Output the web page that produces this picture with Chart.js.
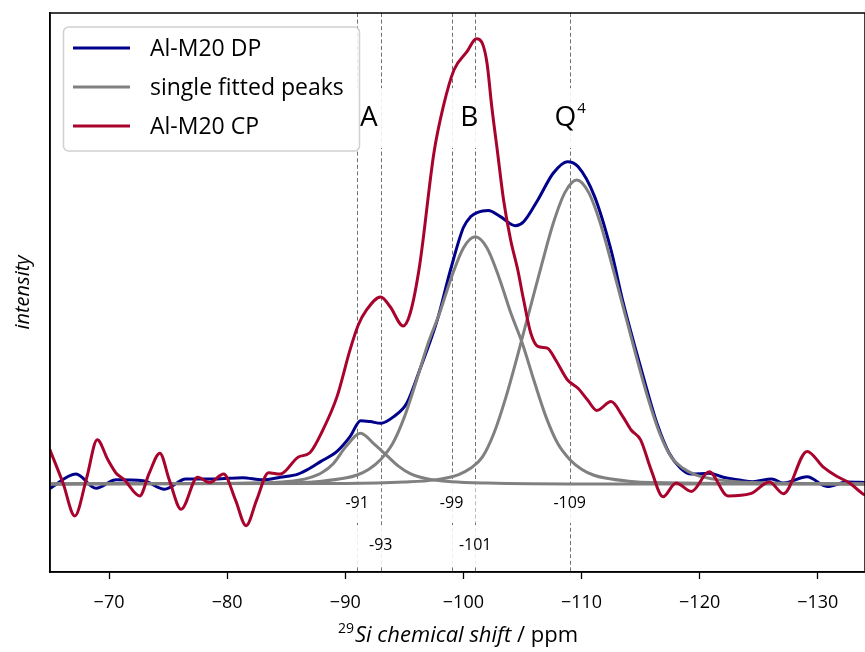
<!DOCTYPE html>
<html>
<head>
<meta charset="utf-8">
<script src="https://cdn.jsdelivr.net/npm/chart.js@4.4.1/dist/chart.umd.min.js"></script>
<style>
  html, body { margin: 0; padding: 0; background: #fff; }
  #wrap { width: 865px; height: 652px; }
</style>
</head>
<body>
<div id="wrap"><canvas id="nmr" width="865" height="652"></canvas></div>
<script>
// 29Si NMR of Al-M20: DP spectrum, CP spectrum and the single fitted components

const FONT = '"Open Sans", "Noto Sans", sans-serif';

// direct polarisation spectrum (ppm / intensity)
const dpShift = [-65, -67.2, -68.9, -70.6, -72.9, -74.7, -76.5, -79, -81.3, -83, -84.5, -86, -87, -87.9, -89.3,
  -90.4, -91.3, -92.1, -93, -94.1, -95.2, -96.3, -97.8, -98.9, -100, -100.6, -101.2, -102.1, -103.1, -104.4, -105.1,
  -106.3, -107.6, -108.8, -109.7, -111.1, -112.5, -113.5, -114.5, -115.5, -116.4, -117.4, -118.4, -119.3,
  -120.8, -122, -123.5, -124.5, -126.1, -127.1, -129.1, -130.8, -132.5, -134];
const dpInt = [-1.0, 2.2, -1.0, 0.9, 0.7, -1.2, 1.1, 1.1, 1.4, 0.9, 1.5, 2.2, 3.5, 5.0, 7.3,
  10.6, 14.2, 14.0, 13.6, 15.1, 18.1, 25.6, 36.9, 48.0, 57.6, 60.0, 61.0, 61.4, 60.1, 58.0, 58.9,
  63.8, 69.8, 72.4, 71.3, 64.6, 52.5, 41.0, 31.0, 21.5, 13.5, 7.0, 3.5, 2.2,
  2.4, 1.5, 0.8, 0.5, 1.1, 0.2, 1.6, -0.6, 0.4, 0.3];

// cross polarisation spectrum
const cpShift = [-65, -66.1, -67.1, -68.1, -69, -69.9, -70.6, -71.3, -72.6, -73.4, -74.3, -75.1, -76.1, -77.5,
  -78.5, -79.7, -80.7, -81.6, -82.5, -83.5, -84.5, -86, -87, -88.1, -89.3, -90.4, -91.1, -91.8, -93, -93.8,
  -94.9, -95.5, -96.3, -97.5, -98.3, -99.2, -100.3, -101.1, -101.6, -102, -102.4, -102.9, -103.4, -104,
  -104.6, -105.1, -105.7, -106.3, -107.1, -107.8, -108.8, -109.7, -110.5, -111.3, -112.5, -113.5, -114.2,
  -115, -115.9, -116.9, -118, -119.3, -120.8, -122.4, -124.3, -125.9, -127.1, -129.1, -130.5, -131.6,
  -132.7, -133.8, -134.5];
const cpInt = [7.6, 0.2, -7.2, 1.3, 9.9, 5.4, 2.4, 0.9, -2.7, 2.4, 6.9, 0.9, -5.7, 1.5,
  0.3, 2.2, -3.6, -9.4, -3.6, 2.5, 2.2, 6.0, 7.0, 12.1, 19.6, 30.1, 35.7, 39.1, 42.0, 39.8,
  35.5, 38.4, 49.2, 74.3, 84.8, 93.0, 97.1, 100, 99.0, 94.5, 84.8, 74.3, 63.8, 54.8,
  48.1, 41.3, 33.9, 30.9, 30.5, 27.9, 23.4, 21.5, 18.9, 16.5, 18.5, 15.1, 12.1,
  9.9, 3.1, -2.9, 0.2, -1.7, 2.7, -2.7, -2.2, 0.4, -2.2, 7.3, 3.7, 1.7,
  0.2, -2.2, -3.0];

// fitted components
const peakAShift = [-65, -80, -84, -86, -87, -88, -89, -90, -91.3, -92.5, -93.5, -94.5, -95.5, -97, -99, -102, -110, -134];
const peakAInt = [0, 0.1, 0.3, 0.8, 1.4, 2.5, 4.6, 8.2, 11.4, 8.8, 6.4, 4.0, 2.3, 1.1, 0.5, 0.2, 0, 0];

const peakBShift = [-65, -86, -88, -90, -91, -92, -93, -94, -95, -96, -97, -98, -99, -100, -101,
  -102, -103, -104, -105, -106, -107, -108, -109, -110, -111, -112, -114, -116, -134];
const peakBInt = [0, 0.3, 0.6, 1.3, 2.0, 3.3, 5.5, 9.0, 15.0, 23.0, 31.5, 38.5, 46.5, 53.0, 55.5,
  53.0, 46.5, 38.5, 31.5, 23.0, 15.0, 9.0, 5.5, 3.3, 2.0, 1.3, 0.6, 0.3, 0];

const peakQ4Shift = [-65, -90, -95, -97.6, -99.6, -100.6, -101.6, -102.6, -103.6, -104.6, -105.6, -106.6,
  -107.6, -108.6, -109.6, -110.6, -111.6, -112.6, -113.6, -114.6, -115.6, -116.6, -117.6, -118.6,
  -119.6, -121.6, -124.6, -134];
const peakQ4Int = [0, 0.1, 0.4, 0.9, 2.1, 3.5, 6.0, 11.5, 19.5, 29.0, 39.0, 49.0,
  58.5, 65.5, 68.3, 65.5, 58.5, 49.0, 39.0, 29.0, 19.5, 11.5, 6.0, 3.5,
  2.1, 0.9, 0.3, 0];

const xTicks = [-70, -80, -90, -100, -110, -120, -130];
const refShifts = [-91, -93, -99, -101, -109];
const siteNames = ['A', 'B', 'Q'];
const siteShifts = [-92, -100.5, -109];

const BLUE = '#00008b';
const GREY = '#808080';
const RED = '#a8032d';

const pts = (xs, ys) => xs.map((x, i) => ({ x, y: ys[i] }));

function series(label, xs, ys, color, order, inLegend) {
  return {
    label, data: pts(xs, ys), borderColor: color, backgroundColor: color,
    borderWidth: 3, pointRadius: 0, fill: false, order,
    cubicInterpolationMode: 'monotone', borderJoinStyle: 'round', borderCapStyle: 'round',
    inLegend
  };
}

// dashed reference lines, label boxes, labels, legend, frame and x title
const decor = {
  id: 'decor',
  beforeDatasetsDraw(chart) {
    const { ctx, chartArea: a, scales: { x, y } } = chart;
    ctx.save();
    ctx.beginPath();
    ctx.rect(a.left, a.top, a.width, a.height);
    ctx.clip();

    ctx.strokeStyle = '#707070';
    ctx.lineWidth = 1;
    ctx.setLineDash([4, 2.6]);
    refShifts.forEach(s => {
      const px = Math.round(x.getPixelForValue(s)) + 0.5;
      ctx.beginPath();
      ctx.moveTo(px, a.top);
      ctx.lineTo(px, a.bottom);
      ctx.stroke();
    });
    ctx.setLineDash([]);

    ctx.fillStyle = 'rgba(255,255,255,0.88)';
    const siteY = y.getPixelForValue(82.2);
    siteShifts.forEach(s => {
      ctx.fillRect(x.getPixelForValue(s) - 23, siteY - 30, 46, 60);
    });
    refShifts.forEach((s, i) => {
      const cy = y.getPixelForValue(i % 2 ? -13.9 : -4.3);
      ctx.fillRect(x.getPixelForValue(s) - 24, cy - 20, 48, 40);
    });
    ctx.restore();
  },
  afterDatasetsDraw(chart) {
    const { ctx, chartArea: a, scales: { x, y } } = chart;
    ctx.save();

    // site labels
    ctx.fillStyle = '#000';
    ctx.textBaseline = 'middle';
    const siteY = y.getPixelForValue(82.2);
    siteNames.forEach((n, i) => {
      const cx = x.getPixelForValue(siteShifts[i]);
      ctx.font = `28px ${FONT}`;
      const w = ctx.measureText(n).width;
      if (n === 'Q') {
        ctx.font = `15px ${FONT}`;
        const sw = ctx.measureText('4').width;
        const left = cx - (w + sw) / 2;
        ctx.font = `28px ${FONT}`;
        ctx.textAlign = 'left';
        ctx.fillText(n, left, siteY);
        ctx.font = `15px ${FONT}`;
        ctx.fillText('4', left + w + 1, siteY - 9);
      } else {
        ctx.textAlign = 'center';
        ctx.fillText(n, cx, siteY);
      }
    });

    // shift labels below the baseline
    ctx.font = `16px ${FONT}`;
    ctx.textAlign = 'center';
    refShifts.forEach((s, i) => {
      const cy = y.getPixelForValue(i % 2 ? -13.9 : -4.3);
      ctx.fillText(String(s), x.getPixelForValue(s), cy);
    });

    // legend
    const entries = chart.data.datasets.filter(d => d.inLegend);
    const lx = a.left + 13.5, ly = a.top + 14;
    ctx.beginPath();
    ctx.roundRect(lx, ly, 296, 124, 5);
    ctx.fillStyle = 'rgba(255,255,255,0.85)';
    ctx.fill();
    ctx.strokeStyle = '#d0d0d0';
    ctx.lineWidth = 1.5;
    ctx.stroke();
    ctx.font = `23px ${FONT}`;
    ctx.textAlign = 'left';
    entries.forEach((d, i) => {
      const ry = ly + 21 + i * 39;
      ctx.strokeStyle = d.borderColor;
      ctx.lineWidth = 3;
      ctx.beginPath();
      ctx.moveTo(lx + 9.5, ry);
      ctx.lineTo(lx + 66.5, ry);
      ctx.stroke();
      ctx.fillStyle = '#000';
      ctx.fillText(d.label, lx + 86.5, ry + 1);
    });

    // frame
    ctx.strokeStyle = '#000';
    ctx.lineWidth = 1.5;
    ctx.strokeRect(a.left, a.top, a.width, a.height);

    // x axis title: 29Si chemical shift / ppm
    const parts = [
      { t: '29', f: `14px ${FONT}`, dy: -9 },
      { t: 'Si chemical shift', f: `italic 22px ${FONT}`, dy: 0 },
      { t: ' / ppm', f: `22px ${FONT}`, dy: 0 }
    ];
    let total = 0;
    parts.forEach(p => { ctx.font = p.f; p.w = ctx.measureText(p.t).width; total += p.w; });
    let tx = (a.left + a.right) / 2 - total / 2;
    ctx.fillStyle = '#000';
    ctx.textBaseline = 'alphabetic';
    parts.forEach(p => {
      ctx.font = p.f;
      ctx.fillText(p.t, tx, 642 + p.dy);
      tx += p.w + (p.t === '29' ? 1 : 0);
    });
    ctx.restore();
  }
};

new Chart(document.getElementById('nmr'), {
  type: 'line',
  data: {
    datasets: [
      series('Al-M20 DP', dpShift, dpInt, BLUE, 2, true),
      series('single fitted peaks', peakAShift, peakAInt, GREY, 1, true),
      series('single fitted peaks', peakBShift, peakBInt, GREY, 1, false),
      series('single fitted peaks', peakQ4Shift, peakQ4Int, GREY, 1, false),
      series('Al-M20 CP', cpShift, cpInt, RED, 0, true)
    ]
  },
  options: {
    responsive: false,
    animation: false,
    layout: { padding: { top: 13, right: 0, left: 0, bottom: 0 } },
    plugins: { legend: { display: false }, tooltip: { enabled: false } },
    scales: {
      x: {
        type: 'linear',
        reverse: true,
        min: -134,
        max: -65,
        afterBuildTicks: s => { s.ticks = xTicks.map(v => ({ value: v })); },
        afterFit: s => { s.height = 80; },
        grid: { display: true, drawOnChartArea: false, drawTicks: true, tickLength: 7, color: '#000', tickWidth: 1.3 },
        border: { display: true, color: '#000', width: 1.5 },
        ticks: {
          color: '#000',
          padding: 13,
          maxRotation: 0,
          font: { family: FONT, size: 18 },
          callback: v => '\u2212' + Math.abs(v)
        }
      },
      y: {
        min: -19.8,
        max: 105.8,
        afterFit: s => { s.width = 50; },
        grid: { display: false },
        border: { display: true, color: '#000', width: 1.5 },
        ticks: { display: false },
        title: {
          display: true,
          text: 'intensity',
          color: '#000',
          padding: { top: 11, bottom: 0 },
          font: { family: FONT, size: 20, style: 'italic' }
        }
      }
    }
  },
  plugins: [decor]
});
</script>
</body>
</html>
